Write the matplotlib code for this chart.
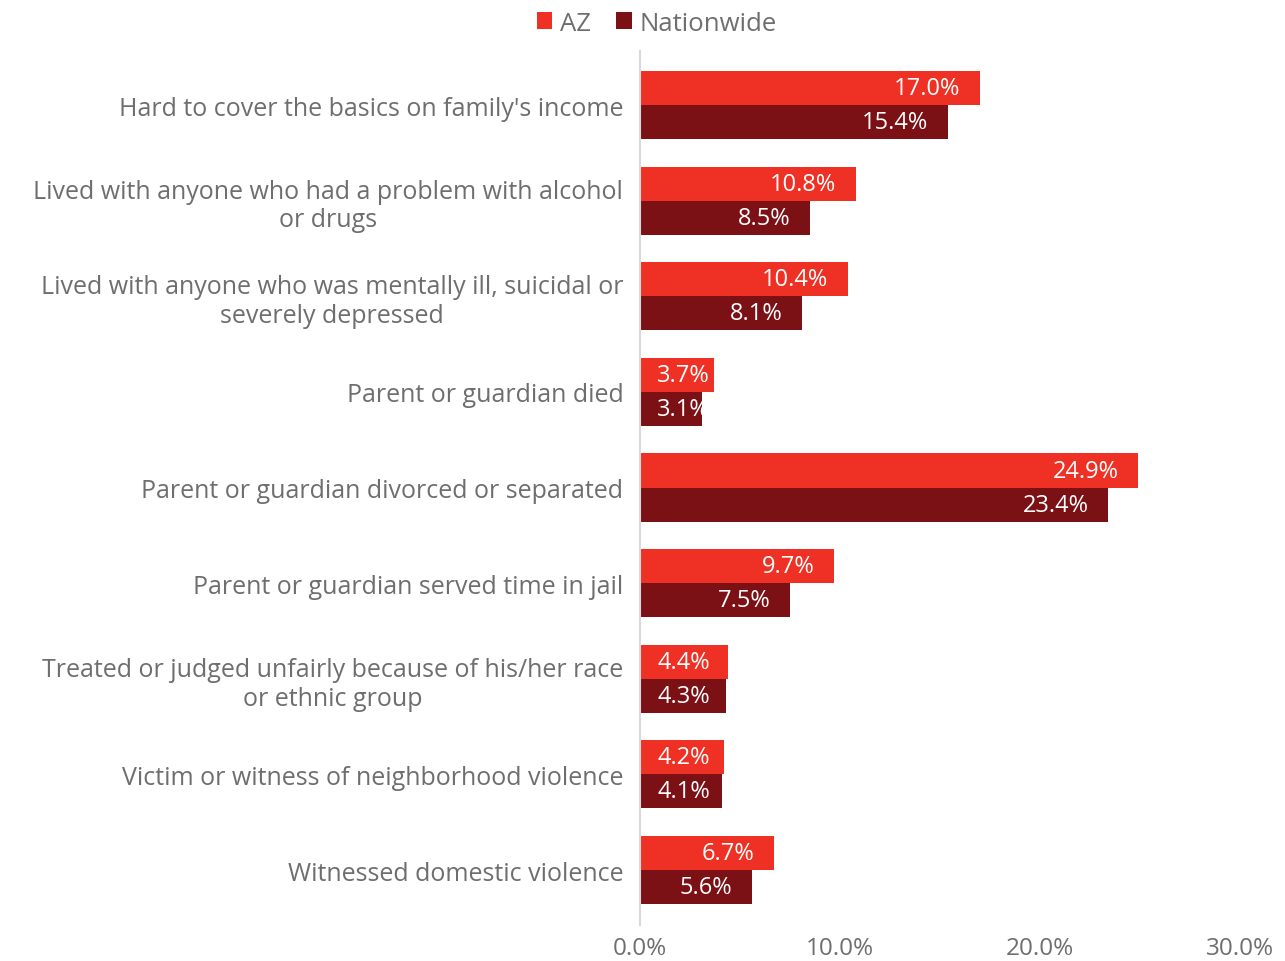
import matplotlib.pyplot as plt
import numpy as np
from matplotlib.ticker import FuncFormatter

plt.rcParams['font.family'] = ['Open Sans', 'DejaVu Sans']

# data
categories = [
    "Hard to cover the basics on family's income",
    "Lived with anyone who had a problem with alcohol\nor drugs",
    "Lived with anyone who was mentally ill, suicidal or\nseverely depressed",
    "Parent or guardian died",
    "Parent or guardian divorced or separated",
    "Parent or guardian served time in jail",
    "Treated or judged unfairly because of his/her race\nor ethnic group",
    "Victim or witness of neighborhood violence",
    "Witnessed domestic violence",
]
az = [17.0, 10.8, 10.4, 3.7, 24.9, 9.7, 4.4, 4.2, 6.7]
nationwide = [15.4, 8.5, 8.1, 3.1, 23.4, 7.5, 4.3, 4.1, 5.6]
xticks = [0, 10, 20, 30]

c_az = '#EE3124'
c_nat = '#7B1115'
gray = '#6E6E6E'

fig = plt.figure(figsize=(12.85, 9.62), dpi=100)
# axes: x from px 640 to 1240, y from px 52 to 926
ax = fig.add_axes([640 / 1285, 1 - 926 / 962, 600 / 1285, 874 / 962])

y = np.arange(len(categories))
h = 0.356
b1 = ax.barh(y - h / 2, az, height=h, color=c_az, label='AZ')
b2 = ax.barh(y + h / 2, nationwide, height=h, color=c_nat, label='Nationwide')

# value labels inside the bar end; short bars get the label pinned near the axis
for bars, vals in [(b1, az), (b2, nationwide)]:
    for bar, v in zip(bars, vals):
        yc = bar.get_y() + bar.get_height() / 2
        if v < 5:
            ax.annotate(f'{v:.1f}%', (0, yc), xytext=(12.5, 0), textcoords='offset points',
                        ha='left', va='center', color='white', fontsize=17)
        else:
            ax.annotate(f'{v:.1f}%', (v, yc), xytext=(-14, 0), textcoords='offset points',
                        ha='right', va='center', color='white', fontsize=17)

ax.set_ylim(8.575, -0.565)
ax.set_xlim(0, 30)
ax.set_xticks(xticks)
ax.xaxis.set_major_formatter(FuncFormatter(lambda v, p: f'{v:.1f}%'))
ax.set_yticks(y)
ax.set_yticklabels(categories, multialignment='center')
ax.tick_params(axis='x', length=0, labelsize=17.5, labelcolor=gray, pad=8)
ax.tick_params(axis='y', length=0, labelsize=18, labelcolor=gray, pad=12)

for s in ['top', 'right', 'bottom']:
    ax.spines[s].set_visible(False)
ax.spines['left'].set_color('#D9D9D9')
ax.spines['left'].set_linewidth(1.5)

leg = fig.legend(handles=[b1, b2], loc='upper center', bbox_to_anchor=(0.511, 1.012),
                 ncol=2, frameon=False, fontsize=18.5, handlelength=0.6,
                 handleheight=0.6, handletextpad=0.3, columnspacing=1.0)
for t in leg.get_texts():
    t.set_color(gray)

fig.savefig('out.png', dpi=100)
